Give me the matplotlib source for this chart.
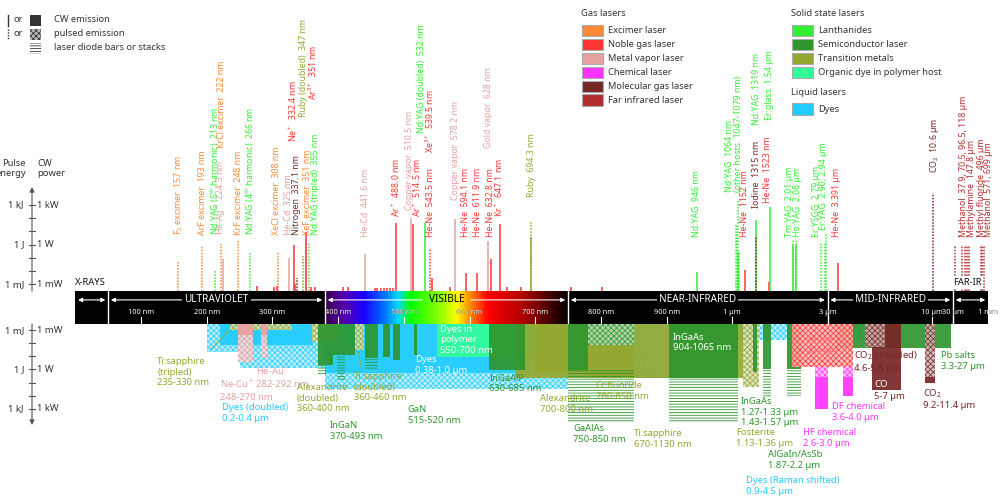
import numpy as np
import matplotlib
matplotlib.use("Agg")
import matplotlib.pyplot as plt
import matplotlib.transforms as mtransforms
from matplotlib.patches import Rectangle
from matplotlib.colors import LinearSegmentedColormap, to_rgb

plt.rcParams['font.family'] = ['Noto Sans', 'DejaVu Sans']
plt.rcParams['mathtext.fontset'] = 'custom'
plt.rcParams['mathtext.rm'] = 'Noto Sans'
plt.rcParams['mathtext.it'] = 'Noto Sans:italic'
plt.rcParams['hatch.linewidth'] = 0.6

# ---------------------------------------------------------------- data
# laser lines above the bar: wavelength (nm), power as log10(W)
line_wl = [157, 193, 213, 222, 224.3, 248, 266, 308, 325, 332.4, 337.1,
           347, 351, 351, 355, 441.6, 488.0, 510.5, 514.5, 532, 539.5,
           543.5, 578.2, 594.1, 611.9, 628, 632.8, 647.1, 694.3, 946, 1064,
           1152, 1319, 1315, 1523, 1540, 2010, 2080, 2790, 2940, 3391, 10600]
line_pow = [-1.31, -0.17, -1.92, 0.05, -1.08, 0.28, -0.63, -0.55, -1.0, -0.02, -2.5,
            -0.78, -0.02, 0.96, 0.13, -0.7, 1.67, 2.02, 1.57, 1.67, -0.25,
            -2.53, 1.95, -2.14, -2.14, 0.28, -1.08, 1.57, 1.72, -2.05, 3.39,
            -1.92, 1.87, 0.58, -2.83, 2.86, -0.02, -0.02, 0.2, 0.89, -1.39, 3.92]
line_kind = ["exc", "exc", "lan", "exc", "metal", "exc", "lan", "exc", "metal", "noble", "mol",
             "trans", "exc", "noble", "lan", "metal", "noble", "metal", "noble", "lan", "noble",
             "noble", "metal", "noble", "noble", "metal", "noble", "noble", "trans", "lan", "lan",
             "noble", "lan", "mol", "noble", "lan", "lan", "lan", "lan", "lan", "noble", "mol"]
line_pulsed = [1, 1, 1, 1, 0, 1, 1, 1, 0, 0, 1,
               1, 1, 0, 1, 0, 0, 0, 0, 0, 1,
               0, 0, 0, 0, 0, 0, 0, 1, 0, 1,
               0, 0, 1, 0, 0, 0, 0, 1, 1, 0, 1]
line_label = ["F$_2$ excimer  157 nm", "ArF excimer  193 nm",
              "Nd:YAG (5$^{\\rm th}$ harmonic)  213 nm", "KrCl excimer  222 nm",
              "He-Ag$^+$  224.3 nm", "KrF excimer  248 nm",
              "Nd:YAG (4$^{\\rm th}$ harmonic)  266 nm", "XeCl excimer  308 nm",
              "He-Cd  325 nm", "Ne$^+$  332.4 nm", "Nitrogen  337.1 nm",
              "Ruby (doubled)  347 nm", "XeF excimer  351 nm", "Ar$^{3+}$  351 nm",
              "Nd:YAG (tripled)  355 nm", "He-Cd  441.6 nm", "Ar$^+$  488.0 nm",
              "Copper vapor  510.5 nm", "Ar$^+$  514.5 nm", "Nd:YAG (doubled)  532 nm",
              "Xe$^{3+}$  539.5 nm", "He-Ne  543.5 nm", "Copper vapor  578.2 nm",
              "He-Ne  594.1 nm", "He-Ne  611.9 nm", "Gold vapor  628 nm",
              "He-Ne  632.8 nm", "Kr$^+$  647.1 nm", "Ruby  694.3 nm", "Nd:YAG  946 nm",
              "Nd:YAG  1064 nm\n(other hosts  1047-1079 nm)", "He-Ne  1152 nm",
              "Nd:YAG  1319 nm", "Iodine  1315 nm", "He-Ne  1523 nm", "Er:glass  1.54 µm",
              "Tm:YAG  2.01 µm", "Ho:YAG  2.08 µm", "Er:YSGG  2.79 µm",
              "Er:YAG  2.90, 2.94 µm", "He-Ne  3.391 µm", "CO$_2$  10.6 µm"]

# extra emission segments sharing a label with a line above
sec_wl = [1047, 1053, 1064, 1079, 694.3, 2010, 2080, 2900]
sec_pow = [1.5, 0.8, -0.55, -0.55, 0.58, 0.36, 0.36, 0.2]
sec_kind = ["lan", "lan", "lan", "lan", "trans", "lan", "lan", "lan"]
sec_pulsed = [1, 1, 0, 1, 0, 1, 1, 1]

# weak noble gas lines
minor_wl = [276, 303, 306.6, 334, 358, 365, 408, 415, 456, 459, 465, 470,
            474, 479, 484, 570, 657, 678, 754, 801]
minor_pow = [-3.15, -3.2, -3.15, -3.0, -3.2, -3.2, -3.2, -3.2, -3.25, -3.25, -3.25,
             -3.25, -3.25, -3.25, -3.25, -3.2, -3.2, -3.2, -3.2, -3.2]

# far infrared lines
fir_wl = [37.9e3, 70.5e3, 96.5e3, 118e3, 147.8e3, 496e3, 571e3, 699e3]
fir_pow = [-0.02, -0.02, -0.02, -0.02, -0.02, -0.02, -0.02, -0.02]
fir_label = ["Methanol  37.9, 70.5, 96.5, 118 µm", "Methylamine  147.8 µm",
             "Methyl fluoride  496 µm", "Methanol  571, 699 µm"]
fir_label_wl = [70.5e3, 147.8e3, 496e3, 699e3]

# tunable / band lasers below the bar (depth = log10 W)
E = -3.47
band_lo = [380, 750, 200, 250, 220, 380, 900, 550, 235, 360, 425, 670, 700, 780, 1130,
           248, 248, 282, 282, 370, 370, 392, 398, 441, 441, 469, 484, 515, 630, 750,
           780, 750, 904, 904, 1270, 1430, 1430, 1870, 1870, 3300, 2000, 2600, 2600,
           3600, 3600, 5000, 4600, 9200, 9200]
band_hi = [750, 1000, 400, 400, 362, 690, 4500, 700, 330, 400, 440, 1130, 800, 850, 1360,
           270, 270, 292, 292, 392, 382, 425, 410, 461, 461, 479, 494, 520, 685, 780,
           850, 850, 1065, 1065, 1330, 1570, 1570, 2200, 2200, 27000, 4000, 3000, 3000,
           4000, 4000, 7000, 5800, 11400, 11400]
band_from = [E, E, E, E, E, E, E, E, E, E, E, E, E, E, E,
             E, E, E, E, E, -0.34, E, -1.1, E, -0.88, E, E, E, E, E,
             E, 0.04, E, 0.65, E, E, 0.0, E, 0.0, E, E, -0.19, 0.57,
             -0.19, 0.57, E, E, E, 0.57]
band_to = [1.49, 0.65, -1.34, -0.11, -1.87, 0.27, -2.25, -0.95, -3.02, -2.1, -1.5, 0.65,
           0.27, 0.65, 1.34, -0.57, -2.63, -0.88, -2.63, -0.34, 0.42, -1.1, 0.8, -0.88,
           0.04, -0.95, -0.73, -1.11, 0.04, 0.04, -1.9, 4.0, 0.65, 4.0, 0.2, 0.0, 2.1,
           0.0, 2.0, -1.64, -0.19, 0.57, 3.02, 0.57, 2.02, 1.56, -1.72, 0.57, 1.06]
band_kind = ["dye", "dye", "dye", "dye", "dye", "dye", "dye", "poly", "trans", "trans",
             "trans", "trans", "trans", "trans", "trans", "metal", "metal", "metal", "metal",
             "semi", "semi", "semi", "semi", "semi", "semi", "semi", "semi", "semi", "semi",
             "semi", "semi", "semi", "semi", "semi", "semi", "semi", "semi", "semi", "semi",
             "semi", "noble", "chem", "chem", "chem", "chem", "mol", "mol", "mol", "mol"]
band_style = ["p", "p", "p", "p", "c", "c", "p", "c", "p", "p", "p", "c", "c", "c", "p",
              "p", "c", "p", "c", "c", "b", "c", "b", "c", "b", "c", "c", "c", "c", "c",
              "p", "b", "c", "b", "c", "c", "b", "c", "b", "c", "p", "p", "c", "p", "c",
              "c", "p", "p", "c"]

band_label = ["Ti:sapphire\n(tripled)\n235-330 nm", "Ne-Cu$^+$\n248-270 nm",
              "He-Au$^+$\n282-292 nm", "Dyes (doubled)\n0.2-0.4 µm",
              "Alexandrite\n(doubled)\n360-400 nm", "InGaN\n370-493 nm",
              "Ti:sapphire\n(doubled)\n360-460 nm", "GaN\n515-520 nm", "Dyes\n0.38-1.0 µm",
              "Dyes in\npolymer\n550-700 nm", "InGaAlP\n630-685 nm", "Alexandrite\n700-800 nm",
              "Cr:fluoride\n780-850 nm", "GaAlAs\n750-850 nm", "Ti:sapphire\n670-1130 nm",
              "InGaAs\n904-1065 nm", "InGaAs\n1.27-1.33 µm\n1.43-1.57 µm",
              "Fosterite\n1.13-1.36 µm", "AlGaIn/AsSb\n1.87-2.2 µm",
              "Dyes (Raman shifted)\n0.9-4.5 µm", "HF chemical\n2.6-3.0 µm",
              "DF chemical\n3.6-4.0 µm", "Xe-He\n2-4 µm", "CO$_2$ (doubled)\n4.6-5.8 µm",
              "CO", "5-7 µm", "CO$_2$\n9.2-11.4 µm", "Pb salts\n3.3-27 µm"]
band_label_kind = ["trans", "metal", "metal", "dye", "trans", "semi", "trans", "semi",
                   "white", "white", "semi", "trans", "trans", "semi", "trans", "white",
                   "semi", "trans", "semi", "dye", "chem", "chem", "xehe", "mol",
                   "white", "mol", "mol", "semi"]

tick_wl = [100, 200, 300, 400, 500, 600, 700, 800, 900, 1000, 3000, 10000, 30000, 1e6]
tick_lbl = ["100 nm", "200 nm", "300 nm", "400 nm", "500 nm", "600 nm", "700 nm",
            "800 nm", "900 nm", "1 µm", "3 µm", "10 µm", "30 µm", "1 mm"]
region_edges = [0, 50, 380, 750, 3000, 30000, 1e6]
region_names = [None, "ULTRAVIOLET", "VISIBLE", "NEAR-INFRARED", "MID-INFRARED", None]

COLORS = {"exc": "#ff8833", "noble": "#ff3333", "metal": "#e6a0a0", "chem": "#ff33ff",
          "mol": "#772626", "fir": "#b22d2d", "lan": "#33ee33", "semi": "#2e962e",
          "trans": "#94a830", "poly": "#33ff99", "dye": "#22ccff",
          "white": "#ffffff", "xehe": "#ff7070"}
gas_kinds = ["exc", "noble", "metal", "chem", "mol", "fir"]
gas_names = ["Excimer laser", "Noble gas laser", "Metal vapor laser", "Chemical laser",
             "Molecular gas laser", "Far infrared laser"]
solid_kinds = ["lan", "semi", "trans", "poly"]
solid_names = ["Lanthanides", "Semiconductor laser", "Transition metals",
               "Organic dye in polymer host"]

# ------------------------------------------------- piecewise wavelength axis
K_NIR, K_MIR, K_FIR = 304., 67., 35.
LOG3 = np.log10(3.)


def fwd(w):
    w = np.asarray(w, dtype=float)
    d = np.log10(np.clip(w, 1000., None) / 1000.)
    u = (1000. + K_NIR * np.minimum(d, 1.)
         + K_MIR * np.clip(d - 1., 0., LOG3)
         + K_FIR * np.clip(d - 1. - LOG3, 0., None))
    return np.where(w <= 1000., w, u)


def inv(u):
    u = np.asarray(u, dtype=float)
    u1 = 1000. + K_NIR
    u2 = u1 + K_MIR * LOG3
    d = np.where(u <= u1, (u - 1000.) / K_NIR,
                 np.where(u <= u2, 1. + (u - u1) / K_MIR,
                          1. + LOG3 + (u - u2) / K_FIR))
    w = 1000. * 10 ** np.clip(d, -5., 40.)
    return np.where(u <= 1000., u, w)


def lighten(c, f):
    r = np.array(to_rgb(c))
    return tuple(r + (1. - r) * f)


def add_band(ax, lo, hi, y0, y1, kind, style):
    col = COLORS[kind]
    if style == "c":
        p = Rectangle((lo, y0), hi - lo, y1 - y0, facecolor=col,
                      edgecolor="none", alpha=0.92)
    elif style == "p":
        p = Rectangle((lo, y0), hi - lo, y1 - y0, facecolor=lighten(col, 0.65),
                      edgecolor=col, hatch="xxxxxx", lw=0, alpha=0.88)
    else:
        p = Rectangle((lo, y0), hi - lo, y1 - y0, facecolor="none",
                      edgecolor=col, hatch="------", lw=0)
    ax.add_patch(p)


def main():
    fig = plt.figure(figsize=(10.03, 5.0), dpi=100)
    ax_top = fig.add_axes([0, 209 / 500., 1, 291 / 500.])
    ax_bar = fig.add_axes([0, 176 / 500., 1, 33 / 500.])
    ax_bot = fig.add_axes([0, 0, 1, 176 / 500.])
    xmax = float(inv(1412.))
    for ax in (ax_top, ax_bar, ax_bot):
        ax.set_xscale("function", functions=(fwd, inv))
        ax.set_xlim(-114.6, xmax)
        ax.axis("off")
    ax_top.set_ylim(-3.51, 18.54)
    ax_bar.set_ylim(0, 1)
    ax_bot.set_ylim(9.96, E)
    base = -3.51
    dotted = (0, (1, 1))

    # --- lines above the bar
    for wl, pw, k, pl in zip(line_wl, line_pow, line_kind, line_pulsed):
        ax_top.plot([wl, wl], [base, pw], color=COLORS[k], lw=1.1,
                    ls=dotted if pl else "-", solid_capstyle="butt")
    for wl, pw, k, pl in zip(sec_wl, sec_pow, sec_kind, sec_pulsed):
        ax_top.plot([wl, wl], [base, pw], color=COLORS[k], lw=1.1,
                    ls=dotted if pl else "-", solid_capstyle="butt")
    for wl, pw in zip(minor_wl, minor_pow):
        ax_top.plot([wl, wl], [base, pw], color=COLORS["noble"], lw=1.1,
                    solid_capstyle="butt")
    for wl, pw in zip(fir_wl, fir_pow):
        ax_top.plot([wl, wl], [base, pw], color=COLORS["fir"], lw=1.1, ls=dotted)

    # label layout (bottom of rotated text, log10 W) and small x nudges (px)
    label_y = [0.73, 0.73, 0.73, 7.33, 0.73, 0.73, 0.73, 0.73, 0.73, 7.78, 0.73,
               9.68, 0.73, 10.96, 0.73, 0.58, 2.1, 2.63, 2.1, 8.46, 6.95,
               0.58, 3.39, 0.58, 0.58, 7.33, 0.58, 2.1, 3.61, 0.58, 3.99,
               0.58, 9.07, 2.78, 3.16, 9.45, 0.58, 0.58, 0.58, 1.11, 0.58, 5.43]
    label_dx = [0, 0, 0, 0, -1, 0, 0, -1, 0, 0, 0,
                0, 1.5, 7, 6.5, 0, 0, -1.5, 4, -3, 0,
                -2, 0, 0, 0, 1, -1, -1, 0, 0, -4,
                0, 0, 0, -1.5, 0, -3, 1.5, -4.5, -2, -1.5, 1]
    for wl, k, txt, ly, dx in zip(line_wl, line_kind, line_label, label_y, label_dx):
        tr = ax_top.transData + mtransforms.ScaledTranslation(dx / 100., 0, fig.dpi_scale_trans)
        ax_top.text(wl, ly, txt, transform=tr, rotation=90, ha="center", va="bottom",
                    multialignment="left", color=COLORS[k], fontsize=6.3,
                    linespacing=1.05)
    for wl, txt, dx in zip(fir_label_wl, fir_label, [2, 3, 0, 4]):
        tr = ax_top.transData + mtransforms.ScaledTranslation(dx / 100., 0, fig.dpi_scale_trans)
        ax_top.text(wl, 0.58, txt, transform=tr, rotation=90, ha="center", va="bottom",
                    color=COLORS["fir"], fontsize=6.3)

    ax_top.text(0, -2.9, "X-RAYS", ha="left", va="center", fontsize=6.8, color="#111")
    ax_top.text(30500, -2.9, "FAR-IR", ha="left", va="center", fontsize=6.8, color="#111",
                zorder=5, bbox=dict(facecolor="white", edgecolor="none", pad=1.2))

    # --- the spectrum bar
    ax_bar.add_patch(Rectangle((0, 0), 1e6, 1, facecolor="black", edgecolor="none"))
    spec = LinearSegmentedColormap.from_list("spec", [
        (0.0, (0.22, 0.0, 0.32)), (0.08, (0.33, 0.0, 0.7)), (0.16, (0.1, 0.0, 1.0)),
        (0.245, (0.0, 0.45, 1.0)), (0.30, (0.0, 0.85, 1.0)), (0.35, (0.0, 1.0, 0.0)),
        (0.49, (0.65, 1.0, 0.0)), (0.54, (1.0, 1.0, 0.0)), (0.59, (1.0, 0.6, 0.0)),
        (0.67, (1.0, 0.0, 0.0)), (0.81, (0.7, 0.0, 0.0)), (1.0, (0.0, 0.0, 0.0))])
    xe = np.linspace(380, 750, 186)
    xc = 0.5 * (xe[1:] + xe[:-1])
    ax_bar.pcolormesh(xe, [0, 1], xc[None, :], cmap=spec, vmin=380, vmax=750,
                      shading="flat")
    for w in region_edges[1:-1]:
        ax_bar.plot([w, w], [0, 1], color="white", lw=1.0)
    for lo, hi, name in zip(region_edges[:-1], region_edges[1:], region_names):
        arrow = dict(arrowstyle="<|-|>", color="white", lw=0.8, shrinkA=2, shrinkB=2,
                     mutation_scale=6)
        if name == "VISIBLE":
            one = dict(arrowstyle="-|>", color="white", lw=0.8, shrinkA=0, shrinkB=2,
                       mutation_scale=6)
            ax_bar.annotate("", xy=(lo, 0.73), xytext=(528, 0.73), arrowprops=one)
            ax_bar.annotate("", xy=(hi, 0.73), xytext=(602, 0.73), arrowprops=one)
            ax_bar.text(565, 0.73, name, ha="center", va="center", fontsize=7.2,
                        color="black")
            continue
        ax_bar.annotate("", xy=(lo, 0.73), xytext=(hi, 0.73), arrowprops=arrow)
        if name:
            mid = float(inv(0.5 * (fwd(lo) + fwd(hi))))
            ax_bar.text(mid, 0.73, name, ha="center", va="center", fontsize=7.2,
                        color="white", bbox=dict(facecolor="black", edgecolor="none", pad=1.5))
    clip = Rectangle((0, 0), 1e6, 1, transform=ax_bar.transData)
    for w, s in zip(tick_wl, tick_lbl):
        ax_bar.plot([w, w], [0, 0.2], color="white", lw=0.8)
        ax_bar.text(w, 0.36, s, ha="center", va="center", fontsize=5.3, color="black",
                    clip_on=False)
        t = ax_bar.text(w, 0.36, s, ha="center", va="center", fontsize=5.3, color="white")
        t.set_clip_path(clip)

    # --- bands below the bar
    for lo, hi, y0, y1, k, st in zip(band_lo, band_hi, band_from, band_to,
                                     band_kind, band_style):
        add_band(ax_bot, lo, hi, y0, y1, k, st)

    # label layout: left edge (nm) and top (log10 W)
    blab_x = [124.6, 220, 275, 223, 337, 387.7, 424, 506, 517, 555, 630, 708, 792, 757.5,
              850, 909.7, 1105, 1042, 1504, 1167, 2268, 3160, 2370, 4060, 5120, 5120,
              9000, 16000]
    blab_y = [-0.95, 0.65, -0.34, 2.56, 1.03, 3.93, 0.19, 2.71, -1.1, -3.4, 0.34, 1.87,
              0.88, 4.16, 4.54, -2.79, 2.1, 4.47, 6.15, 8.13, 4.47, 2.48, -2.63, -1.49,
              0.8, 1.72, 1.34, -1.41]
    for txt, k, x, y in zip(band_label, band_label_kind, blab_x, blab_y):
        ax_bot.text(x, y, txt, ha="left", va="top", color=COLORS[k], fontsize=6.8,
                    linespacing=1.22)
    ax_bot.plot([206.7, 234], [-1.56, -3.02], color=COLORS["trans"], lw=0.6)
    ax_bot.plot([436, 430.7], [0.04, -1.36], color=COLORS["trans"], lw=0.6)

    # --- power / energy scales at the left
    ax_c = "#555555"
    for ax, y_start, y_tip in ((ax_top, -3.51, 4.37), (ax_bot, E, 4.24)):
        tr = ax.get_yaxis_transform()
        ax.annotate("", xy=(32 / 1003., y_tip), xytext=(32 / 1003., y_start),
                    xycoords=tr, textcoords=tr,
                    arrowprops=dict(arrowstyle="-|>", color=ax_c, lw=0.8,
                                    shrinkA=0, shrinkB=0, mutation_scale=7))
        for yv in range(-3, 4):
            ax.plot([29 / 1003., 35 / 1003.], [yv, yv], color=ax_c, lw=0.8, transform=tr,
                    clip_on=False)
        for yv, le, lp in ((-3, "1 mJ", "1 mW"), (0, "1 J", "1 W"), (3, "1 kJ", "1 kW")):
            ax.text(24 / 1003., yv, le, ha="right", va="center", fontsize=6.8,
                    color="#333", transform=tr)
            ax.text(37 / 1003., yv, lp, ha="left", va="center", fontsize=6.8,
                    color="#333", transform=tr)
    trt = ax_top.get_yaxis_transform()
    ax_top.text(26 / 1003., 5.77, "Pulse\nenergy", ha="right", va="center",
                fontsize=6.8, color="#333", transform=trt, linespacing=1.2)
    ax_top.text(37 / 1003., 5.77, "CW\npower", ha="left", va="center",
                fontsize=6.8, color="#333", transform=trt, linespacing=1.2)

    # --- legends (pixel layout)
    ax_ov = fig.add_axes([0, 0, 1, 1])
    ax_ov.set_xlim(0, 1003)
    ax_ov.set_ylim(500, 0)
    ax_ov.axis("off")
    ax_ov.patch.set_alpha(0)
    dark = "#333333"
    ax_ov.plot([8, 8], [15, 25.5], color=dark, lw=1.0)
    ax_ov.plot([8, 8], [29, 39.5], color=dark, lw=1.0, ls=dotted)
    for yy in (20, 34):
        ax_ov.text(14, yy, "or", fontsize=6.7, color=dark, va="center")
    ax_ov.add_patch(Rectangle((30, 14.5), 11.5, 11.5, facecolor=dark, edgecolor="none"))
    ax_ov.add_patch(Rectangle((30, 28.5), 11.5, 11.5, facecolor="#bbbbbb", edgecolor=dark,
                              hatch="xxxxxx", lw=0))
    ax_ov.add_patch(Rectangle((30, 42.5), 11.5, 11.5, facecolor="none", edgecolor=dark,
                              hatch="------", lw=0))
    for yy, txt in zip((20, 34, 48), ("CW emission", "pulsed emission",
                                       "laser diode bars or stacks")):
        ax_ov.text(54.5, yy, txt, fontsize=6.7, color=dark, va="center")

    def swatches(x0, y0, kinds, names):
        for i, (k, n) in enumerate(zip(kinds, names)):
            yy = y0 + i * 13.9
            ax_ov.add_patch(Rectangle((x0, yy - 5.8), 21.5, 11.6, facecolor=COLORS[k],
                                      edgecolor="#aaaaaa", lw=0.8))
            ax_ov.text(x0 + 26.5, yy, n, fontsize=6.7, color=dark, va="center")

    ax_ov.text(581, 14, "Gas lasers", fontsize=6.7, fontweight="bold", color=dark,
               va="center")
    swatches(582, 30.7, gas_kinds, gas_names)
    ax_ov.text(791, 14, "Solid state lasers", fontsize=6.7, fontweight="bold",
               color=dark, va="center")
    swatches(792, 30.7, solid_kinds, solid_names)
    ax_ov.text(791, 92.5, "Liquid lasers", fontsize=6.7, fontweight="bold", color=dark,
               va="center")
    swatches(792, 109.2, ["dye"], ["Dyes"])

    fig.savefig("out.png", dpi=100)


if __name__ == "__main__":
    main()
